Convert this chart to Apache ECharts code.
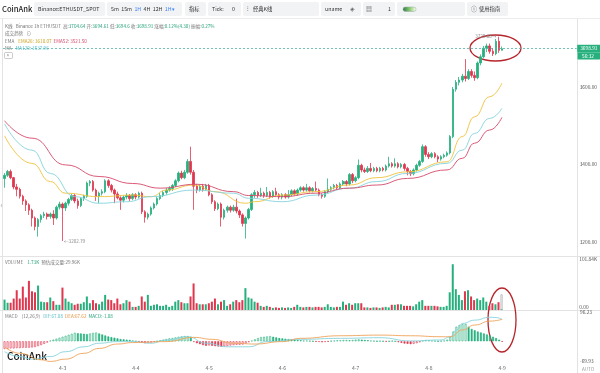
<!DOCTYPE html>
<html><head><meta charset="utf-8">
<script src="https://cdn.jsdelivr.net/npm/echarts@6/dist/echarts.min.js"></script>
<style>html,body{margin:0;padding:0;background:#fff}#c{width:600px;height:373px}</style>
</head><body><div id="c"></div>
<script>
// ---- data: hourly candles ETHUSDT, [open, close, low, high] ----
const candles = [
[3364,3372,3340,3378],[3372,3382,3368,3386],[3382,3366,3362,3387],[3366,3342,3336,3368],[3342,3336,3318,3350],
[3336,3318,3312,3340],[3318,3306,3296,3322],[3306,3296,3280,3310],[3296,3282,3270,3300],[3282,3262,3240,3286],
[3262,3240,3230,3266],[3240,3258,3214,3262],[3258,3268,3250,3272],[3268,3272,3262,3278],[3272,3266,3258,3276],
[3266,3272,3260,3276],[3272,3262,3244,3282],[3262,3290,3258,3294],[3290,3298,3284,3304],[3298,3288,3202.79,3302],
[3288,3300,3280,3304],[3300,3310,3294,3314],[3310,3320,3306,3324],[3320,3306,3300,3324],[3306,3294,3286,3312],
[3294,3312,3290,3316],[3312,3318,3306,3322],[3318,3352,3314,3356],[3352,3356,3344,3360],[3356,3334,3330,3360],
[3334,3318,3306,3338],[3318,3326,3300,3330],[3326,3330,3320,3336],[3330,3358,3326,3362],[3358,3346,3340,3362],
[3346,3334,3328,3350],[3334,3324,3300,3338],[3324,3314,3310,3330],[3314,3308,3283,3318],[3308,3316,3302,3320],
[3316,3320,3310,3326],[3320,3312,3306,3324],[3312,3322,3308,3326],[3322,3316,3310,3326],[3316,3326,3312,3330],
[3326,3278,3272,3330],[3278,3264,3250,3282],[3264,3272,3258,3276],[3272,3288,3268,3292],[3288,3298,3284,3302],
[3298,3312,3294,3316],[3312,3320,3308,3326],[3320,3328,3316,3332],[3328,3334,3322,3340],[3334,3338,3330,3344],
[3338,3346,3332,3350],[3346,3358,3342,3362],[3358,3378,3354,3382],[3378,3366,3362,3384],[3366,3380,3362,3386],
[3380,3408,3376,3414],[3408,3380,3374,3446],[3380,3344,3283,3386],[3344,3334,3326,3350],[3334,3344,3330,3348],
[3344,3336,3330,3350],[3336,3346,3332,3350],[3346,3322,3318,3350],[3322,3304,3298,3326],[3304,3286,3280,3308],
[3286,3298,3282,3302],[3298,3264,3240,3302],[3264,3282,3258,3286],[3282,3290,3276,3294],[3290,3282,3276,3294],
[3282,3290,3278,3296],[3290,3280,3274,3312],[3280,3270,3262,3284],[3270,3248,3240,3274],[3248,3262,3209,3266],
[3262,3284,3258,3288],[3284,3322,3280,3326],[3322,3328,3314,3334],[3328,3320,3314,3332],[3320,3326,3316,3340],
[3326,3320,3314,3330],[3320,3328,3316,3342],[3328,3318,3312,3332],[3318,3330,3314,3334],[3330,3322,3318,3340],
[3322,3316,3310,3326],[3316,3322,3310,3326],[3322,3316,3312,3326],[3316,3322,3312,3334],[3322,3332,3318,3336],
[3332,3324,3320,3336],[3324,3334,3320,3338],[3334,3340,3330,3344],[3340,3334,3330,3344],[3334,3340,3330,3350],
[3340,3332,3328,3344],[3332,3338,3328,3342],[3338,3334,3330,3356],[3334,3322,3318,3338],[3322,3318,3312,3326],
[3318,3330,3314,3334],[3330,3336,3326,3364],[3336,3340,3332,3344],[3340,3346,3336,3350],[3346,3340,3336,3350],
[3340,3350,3336,3354],[3350,3356,3346,3360],[3356,3350,3344,3360],[3350,3374,3346,3378],[3374,3358,3352,3378],
[3358,3366,3354,3370],[3366,3398,3362,3413],[3398,3386,3380,3402],[3386,3382,3378,3392],[3382,3390,3378,3396],
[3390,3384,3380,3404],[3384,3390,3380,3394],[3390,3384,3380,3394],[3384,3390,3380,3394],[3390,3386,3382,3394],
[3386,3396,3382,3400],[3396,3402,3392,3420],[3402,3396,3392,3406],[3396,3402,3392,3416],[3402,3394,3390,3406],
[3394,3400,3390,3404],[3400,3390,3384,3404],[3390,3382,3372,3394],[3382,3376,3370,3386],[3376,3386,3372,3390],
[3386,3398,3382,3402],[3398,3408,3394,3412],[3408,3446,3404,3452],[3446,3426,3420,3450],[3426,3420,3414,3432],
[3420,3428,3416,3432],[3428,3420,3416,3432],[3420,3414,3406,3424],[3414,3420,3410,3424],[3420,3424,3416,3428],
[3424,3430,3420,3434],[3430,3472,3426,3476],[3472,3594,3468,3600],[3594,3612,3588,3618],[3612,3618,3604,3626],
[3618,3628,3612,3634],[3628,3622,3614,3672],[3622,3640,3618,3646],[3640,3630,3624,3646],[3630,3624,3616,3640],
[3624,3662,3620,3666],[3662,3678,3656,3684],[3678,3700,3674,3706],[3700,3706,3690,3712],[3706,3692,3686,3712],
[3692,3686,3680,3700],[3686,3718,3682,3724],[3718,3694.61,3688,3729.88],[3694.61,3698.91,3694.6,3704.64]
];
// volume in K
const volumes = [
20,14,14,22,38,22,45,24,56,36, 34,47,16,15,15,24,17,10,10,43, 22,16,13,10,12,12,15,26,13,19,
13,11,16,29,20,19,13,22,11,13, 19,16,6,6,8,26,16,29,8,10, 11,8,8,10,6,8,16,19,15,13,
13,26,51,13,11,11,11,13,16,22, 11,16,19,8,11,16,19,15,19,42, 24,22,16,14,8,6,8,6,4,5,
4,5,4,5,4,6,10,6,5,6, 6,5,6,6,5,6,11,6,5,6, 6,16,10,13,10,13,13,13,5,5,
4,5,5,4,5,6,5,10,10,11, 11,8,8,8,7,11,16,19,8,8, 8,8,7,6,6,8,34,88,40,29,
19,36,38,26,19,22,19,24,16,8, 13,11,15,1.73
];
const estVolume = 29.96;
const volMax = 101.84;
// MACD histogram
const macdHist = [
-24,-23,-22,-22,-21,-21,-20,-20,-20,-19, -18,-15,-12,-8,-4, 2,5,8,11,14,
17,20,23,26, 25,24,23,22, 24,26,27, 24,21,18,15,13,11,9, 7,6,5,4, 2,0,-1,
-3,-6,-5,-4,-2,0, 3,5,7,9,10,12,14, 15,16,16,14, -2,-6,-9,-12,-14,
-13,-14,-15,-16,-17,-16, -15,-13,-12,-11,-11,-10, -7,-3,2, 6,10,13,14,15,16,
14,12,10,9,8,7, 6,5,4,3,2,2,1, 0,-1,-2,-3, -2,-1,1,2, 3,3,4,4,3,4,5,
6,5,4,3,2,1, 0,1,0,-1,0,1,0, -3,-5,-7,-8,-9,-8,-6,-3, 2,4,3,2,1,0,1,2,
5,14,30,45,50,53,54, 45,38,34,30,27,24,21,18,14,10,5,-1.08
];
const macdMax = 96.23, macdMin = -69.93;
// DIF / DEA read at [candle index, value]
const dif = [[0,-32],[5,-47],[9,-55],[15,-47],[20,-32],[26,-17],[31,-6],[37,-1],[42,-1],[48,-6],[53,4],[60,14],[66,-6],[73,-17],[80,-17],[86,-1],[97,6],[110,9],[123,11],[133,1],[143,4],[146,14],[148,35],[150,55],[154,65],[159,74],[161,73],[163,67.08]];
const dea = [[0,-17],[5,-37],[12,-57],[15,-62],[20,-55],[26,-37],[31,-22],[37,-8.5],[42,-4],[53,-1],[62,12],[68,6],[75,-6],[82,-8.5],[91,-1],[97,9],[110,17],[123,19],[133,17],[143,14],[146,14],[150,35],[154,50],[159,62],[163,67.62]];
// moving averages read at [candle index, price]
const ema26 = [[0,3474],[9,3403],[15,3356],[20,3326],[31,3317],[42,3321],[48,3317],[53,3334],[62,3347],[69,3330],[79,3300],[82,3304],[91,3321],[102,3330],[113,3347],[122,3366],[132,3381],[145,3407],[150,3472],[154,3523],[159,3575],[163,3610.07]];
const ema52 = [[0,3513],[9,3468],[20,3399],[31,3369],[42,3351],[51,3339],[63,3349],[75,3330],[80,3320],[91,3317],[102,3326],[113,3339],[122,3347],[132,3364],[145,3386],[150,3416],[154,3455],[159,3489],[163,3521.5]];
const ma120 = [[0,3505],[9,3437],[15,3377],[23,3317],[31,3300],[40,3304],[48,3317],[62,3334],[75,3326],[80,3313],[91,3304],[102,3321],[113,3339],[122,3356],[132,3377],[145,3403],[150,3437],[154,3480],[159,3519],[163,3545]];
// time categories: first candle 4-2 05:00, hourly; empty slots to the right
const firstHour = 5, firstDay = 2, padSlots = 24;
const categories = [];
for (let i = 0; i < candles.length + padSlots; i++) {
  const h = firstHour + i;
  categories.push('4-' + (firstDay + Math.floor(h / 24)) + ' ' + String(h % 24).padStart(2, '0') + ':00');
}

const upColor = '#26b07e', downColor = '#e0374f';
const FF = '"Noto Sans CJK SC", "Noto Sans", sans-serif';
const last = candles[candles.length - 1];

const chart = echarts.init(document.getElementById('c'));
const gl = 3, gr = 23;
const xBase = {type: 'category', data: categories, boundaryGap: true, axisLine: {show: false}, axisTick: {show: false}, splitLine: {show: false}};
const yBase = {position: 'right', axisLine: {show: false}, axisTick: {show: false}, splitLine: {show: false}};

function box(x, w) { return {type: 'rect', shape: {x: x, y: 2, width: w, height: 14, r: 2}, style: {fill: '#f2f3f5'}, silent: true}; }
function txt(x, y, text, size, color, extra) {
  return Object.assign({type: 'text', x: x, y: y, silent: true, style: Object.assign({text: text, fontSize: size, fontFamily: FF, fill: color, verticalAlign: 'middle'}, extra || {})});
}
const rich = {
  g: {fill: '#777', fontSize: 4.6, fontFamily: FF},
  v: {fill: '#26a17b', fontSize: 4.6, fontFamily: FF},
  y: {fill: '#c9a21c', fontSize: 4.6, fontFamily: FF},
  p: {fill: '#d5486a', fontSize: 4.6, fontFamily: FF},
  c: {fill: '#5bbfcb', fontSize: 4.6, fontFamily: FF},
  o: {fill: '#e8913f', fontSize: 4.6, fontFamily: FF},
  b: {fill: '#3b82f6', fontSize: 5.3, fontFamily: FF},
  d: {fill: '#333', fontSize: 5.3, fontFamily: FF}
};

const graphic = [
  {type: 'line', shape: {x1: 0, y1: 18.5, x2: 600, y2: 18.5}, style: {stroke: '#ececec', lineWidth: 1}, silent: true},
  {type: 'line', shape: {x1: 2.5, y1: 19, x2: 2.5, y2: 373}, style: {stroke: '#e3e3e3', lineWidth: 1}, silent: true},
  {type: 'line', shape: {x1: 577.5, y1: 19, x2: 577.5, y2: 373}, style: {stroke: '#e3e3e3', lineWidth: 1}, silent: true},
  {type: 'line', shape: {x1: 0, y1: 256.5, x2: 600, y2: 256.5}, style: {stroke: '#e3e3e3', lineWidth: 1}, silent: true},
  {type: 'line', shape: {x1: 0, y1: 310.5, x2: 600, y2: 310.5}, style: {stroke: '#e3e3e3', lineWidth: 1}, silent: true},
  txt(2, 9, 'CoinAnk', 7.6, '#222', {fontWeight: 500}),
  box(34, 71), txt(38, 9, 'Binance:ETHUSDT_SPOT', 5.3, '#333'),
  box(107, 75), txt(111, 9, '{d|5m  15m  }{b|1H}{d|  4H  12H  }{b|1H▾}', 5.3, '#333', {rich: rich}),
  box(185, 21), txt(189, 9, '指标', 5.3, '#333'),
  box(208, 33), txt(212, 9, 'Tick:', 5.3, '#333'), txt(232, 9, '0', 5.3, '#333'),
  box(243, 76), txt(247, 9, '⫶', 6, '#555'), txt(253, 9, '经典K线', 5.3, '#333'),
  box(321, 40), txt(325, 9, 'uname', 5.3, '#333'), txt(350, 9, '◈', 6, '#666'),
  box(363, 32), txt(366, 9, '▦', 6, '#666'), txt(388, 9, '1', 5.3, '#333'),
  box(397, 68),
  {type: 'rect', shape: {x: 403, y: 7, width: 13, height: 4.5, r: 2.2}, silent: true,
   style: {fill: new echarts.graphic.LinearGradient(0, 0, 1, 0, [{offset: 0, color: '#2c7a4b'}, {offset: 0.6, color: '#9cd67a'}, {offset: 1, color: '#ffffff'}]), stroke: '#9aa', lineWidth: 0.5}},
  box(467, 41), txt(471, 9, 'ⓘ', 6, '#555'), txt(479, 9, '使用指南', 5.3, '#333'),
  txt(5, 26, '{g|K线   Binance 1h ETHUSDT  高:}{v|' + last[3] + '}{g| 开:}{v|' + last[0] + '}{g| 低:}{v|' + last[2] + '}{g| 收:}{v|' + last[1] + '}{g| 涨幅:}{v|0.12%(4.30)}{g| 振幅:}{v|0.27%}', 4.6, '#777', {rich: rich}),
  txt(5, 33.5, '{g|成交趋势   ⊙}', 4.6, '#777', {rich: rich}),
  txt(5, 41, '{g|EMA    }{y|EMA26: 3610.07}{g|  }{p|EMA52: 3521.50}', 4.6, '#777', {rich: rich}),
  txt(5, 48.5, '{g|MA    }{c|MA120: 3537.96}', 4.6, '#777', {rich: rich}),
  {type: 'rect', shape: {x: 4.5, y: 52.5, width: 8, height: 6, r: 1}, style: {fill: '#fff', stroke: '#aaa', lineWidth: 0.6}, silent: true},
  txt(6.5, 56, '^', 5, '#777'),
  txt(0.5, 204, '‹', 7, '#999'),
  txt(5, 262, '{g|VOLUME    }{v|1.73K}{g|  预估成交量:29.96K}', 4.6, '#777', {rich: rich}),
  txt(5, 316, '{g|MACD    (12,26,9)   }{c|DIF:67.08}{g|  }{o|DEA:67.62}{g|  }{v|MACD:-1.08}', 4.6, '#777', {rich: rich}),
  txt(7, 356, 'CoinAnk', 10, '#111', {fontWeight: 500}),
  txt(582, 369, 'AUTO', 4.6, '#999'),
  {type: 'rect', shape: {x: 577.5, y: 52.5, width: 22.5, height: 7, r: 0.5}, style: {fill: upColor}, silent: true},
  txt(582, 56, '56:32', 4.8, '#fff'),
  {type: 'ellipse', shape: {cx: 495.5, cy: 48, rx: 25.5, ry: 13}, style: {fill: 'none', stroke: '#b5252b', lineWidth: 1.3}, silent: true},
  {type: 'ellipse', shape: {cx: 502, cy: 320, rx: 14, ry: 32}, style: {fill: 'none', stroke: '#b5252b', lineWidth: 1.3}, silent: true}
];

const lineS = (data, color, xi) => ({type: 'line', xAxisIndex: xi, yAxisIndex: xi, data: data, showSymbol: false, smooth: 0.5, smoothMonotone: 'x', silent: true, lineStyle: {width: 0.9, color: color}, itemStyle: {color: color}, z: 3});

chart.setOption({
  animation: false,
  backgroundColor: '#fff',
  grid: [
    {left: gl, right: gr, top: 20, height: 236},
    {left: gl, right: gr, top: 257, height: 53},
    {left: gl, right: gr, top: 310, height: 54}
  ],
  xAxis: [
    Object.assign({}, xBase, {gridIndex: 0, axisLabel: {show: false}}),
    Object.assign({}, xBase, {gridIndex: 1, axisLabel: {show: false}}),
    Object.assign({}, xBase, {gridIndex: 2, axisLabel: {show: true, fontSize: 5, color: '#666', fontFamily: FF, margin: 1.5,
      interval: (i, v) => i < candles.length && v.endsWith(' 00:00'), formatter: v => v.split(' ')[0]}})
  ],
  yAxis: [
    Object.assign({}, yBase, {gridIndex: 0, min: 3163.9, max: 3772.9, splitNumber: 3,
      axisLabel: {fontSize: 4.8, color: '#555', fontFamily: FF, margin: 3, showMinLabel: false, showMaxLabel: false,
        formatter: v => Math.abs(v / 200 - Math.round(v / 200)) < 1e-6 ? v.toFixed(2) : ''}}),
    Object.assign({}, yBase, {gridIndex: 1, min: 0, max: volMax, interval: volMax,
      axisLabel: {fontSize: 4.8, color: '#555', fontFamily: FF, margin: 3, verticalAlignMaxLabel: 'top', verticalAlignMinLabel: 'bottom',
        formatter: v => v === 0 ? '0.00' : v.toFixed(2) + 'K'}}),
    Object.assign({}, yBase, {gridIndex: 2, min: macdMin, max: macdMax, interval: macdMax - macdMin,
      axisLabel: {fontSize: 4.8, color: '#555', fontFamily: FF, margin: 3, verticalAlignMaxLabel: 'top', verticalAlignMinLabel: 'bottom',
        formatter: v => (Math.abs(v - macdMax) < 1e-6 || Math.abs(v - macdMin) < 1e-6) ? v.toFixed(2) : ''}})
  ],
  graphic: graphic,
  series: [
    {type: 'candlestick', xAxisIndex: 0, yAxisIndex: 0, data: candles, barWidth: '66%',
      itemStyle: {color: upColor, color0: downColor, borderColor: upColor, borderColor0: downColor, borderWidth: 0.8},
      markPoint: {symbol: 'circle', symbolSize: 1, itemStyle: {color: 'rgba(0,0,0,0)'},
        label: {fontSize: 4.6, color: '#888', fontFamily: FF},
        data: [
          {type: 'max', valueDim: 'highest', label: {position: 'left', distance: 2, formatter: p => p.value.toFixed(2) + '→'}},
          {type: 'min', valueDim: 'lowest', label: {position: 'right', distance: 1, formatter: p => '←' + p.value.toFixed(2)}}
        ]},
      markLine: {symbol: ['none', 'none'], silent: true, animation: false,
        data: [{yAxis: last[1]}],
        lineStyle: {type: [2, 2], color: '#4fb3a5', width: 0.8},
        label: {position: 'end', distance: 0.5, formatter: last[1].toFixed(2), backgroundColor: upColor, color: '#fff', fontSize: 4.8, fontFamily: FF, padding: [1.5, 3]}}
    },
    lineS(ema26, '#efc23c', 0),
    lineS(ma120, '#86d3dc', 0),
    lineS(ema52, '#d5486a', 0),
    {type: 'bar', xAxisIndex: 1, yAxisIndex: 1, barWidth: '66%', silent: true,
      data: volumes.map((v, i) => ({value: v, itemStyle: {color: candles[i][1] >= candles[i][0] ? upColor : downColor}}))},
    {type: 'bar', xAxisIndex: 1, yAxisIndex: 1, barWidth: '66%', barGap: '-100%', silent: true,
      data: volumes.map((v, i) => i === volumes.length - 1 ? estVolume : '-'),
      itemStyle: {color: 'rgba(255,255,255,0)', borderColor: '#a9a9a9', borderWidth: 0.7}},
    {type: 'bar', xAxisIndex: 2, yAxisIndex: 2, barWidth: '62%', silent: true,
      data: macdHist.map((v, i) => {
        const prev = i > 0 ? macdHist[i - 1] : v;
        const c = v >= 0 ? upColor : downColor;
        return {value: v, itemStyle: {color: v >= prev ? 'rgba(255,255,255,0)' : c, borderColor: c, borderWidth: 0.6}};
      })},
    lineS(dif, '#86d3dc', 2),
    lineS(dea, '#eea35a', 2)
  ]
});
</script>
</body></html>
